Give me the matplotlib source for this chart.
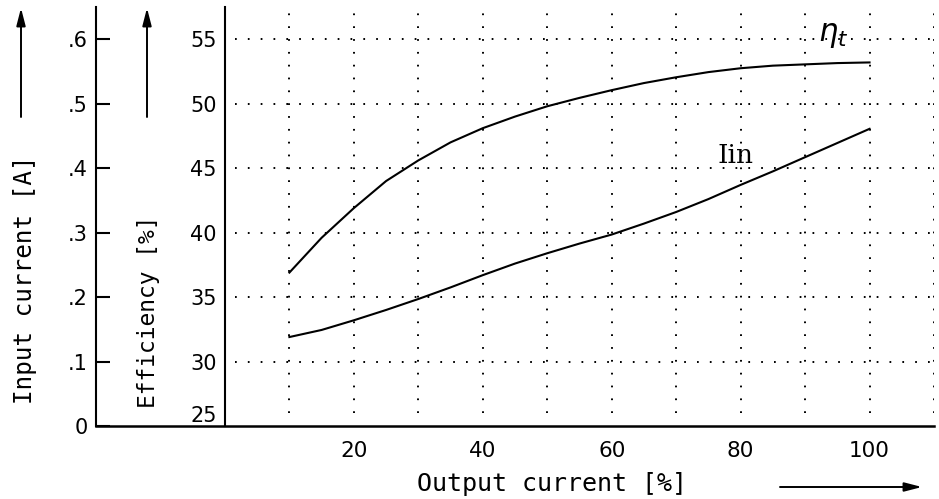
import matplotlib
matplotlib.use("Agg")
import matplotlib.pyplot as plt

# ── Data ──────────────────────────────────────────────────────────────────
output_pct = [10, 15, 20, 25, 30, 35, 40, 45, 50, 55,
              60, 65, 70, 75, 80, 85, 90, 95, 100]
efficiency = [36.9, 39.6, 41.9, 44.0, 45.6, 47.0, 48.1, 49.0, 49.8, 50.45,
              51.05, 51.6, 52.05, 52.45, 52.75, 52.95, 53.05, 53.15, 53.2]
input_current = [0.138, 0.149, 0.164, 0.180, 0.197, 0.215, 0.234, 0.252, 0.268, 0.283,
                 0.297, 0.314, 0.332, 0.352, 0.374, 0.395, 0.417, 0.439, 0.461]

x_ticks = [20, 40, 60, 80, 100]
x_grid = [10, 20, 30, 40, 50, 60, 70, 80, 90, 100, 110]
eff_ticks = [25, 30, 35, 40, 45, 50, 55]
eff_grid = [30, 35, 40, 45, 50, 55]
cur_ticks = [0, 0.1, 0.2, 0.3, 0.4, 0.5, 0.6]
cur_labels = ["0", ".1", ".2", ".3", ".4", ".5", ".6"]

W, H = 939, 499
NUM_FONT = "DejaVu Sans"
TXT_FONT = "DejaVu Sans Mono"
DOTS = (0, (0.9, 5.7))


def fx(px):
    return px / W


def fy(py):
    return 1 - py / H


fig = plt.figure(figsize=(W / 100, H / 100), dpi=100, facecolor="white")
ax = fig.add_axes([fx(96), fy(426), (934 - 96) / W, (426 - 7) / H])
ax.set_xlim(-20, 110)
ax.set_ylim(0, 0.65)

# efficiency scale sits on its own axis line at x = 0
ax2 = ax.twinx()
ax2.set_ylim(25, 57.5)

# ── grid (dotted) ─────────────────────────────────────────────────────────
ax2.hlines(eff_grid, 1.5, 110.5, colors="black", lw=1.4, linestyles=DOTS, zorder=1)
ax2.vlines(x_grid, 26.0, 57.0, colors="black", lw=1.4, linestyles=DOTS, zorder=1)

# ── curves ────────────────────────────────────────────────────────────────
ax2.plot(output_pct, efficiency, color="black", lw=1.5, zorder=3,
         solid_joinstyle="round")
ax.plot(output_pct, input_current, color="black", lw=1.5, zorder=3,
        solid_joinstyle="round")

ax2.text(94.4, 55.3, r"$\eta_t$", fontsize=22, ha="center", va="center")
ax.text(79.2, 0.42, "Iin", fontsize=19, ha="center", va="center",
        fontfamily="DejaVu Serif")

# ── input-current axis (left spine) ───────────────────────────────────────
for sp in ["top", "right"]:
    ax.spines[sp].set_visible(False)
ax.spines["left"].set_linewidth(1.5)
ax.spines["bottom"].set_linewidth(1.8)
ax.set_yticks(cur_ticks)
ax.set_yticklabels(cur_labels, fontsize=15, fontfamily=NUM_FONT)
ax.tick_params(axis="y", direction="in", length=10, width=1.5, pad=6)
ax.set_xticks(x_ticks)
ax.set_xticklabels([str(v) for v in x_ticks], fontsize=15.5, fontfamily=NUM_FONT)
ax.tick_params(axis="x", length=0, pad=11)

# ── efficiency axis at x = 0 ──────────────────────────────────────────────
for sp in ["top", "right", "bottom"]:
    ax2.spines[sp].set_visible(False)
ax2.spines["left"].set_position(("data", 0))
ax2.spines["left"].set_visible(True)
ax2.spines["left"].set_linewidth(1.5)
ax2.yaxis.tick_left()
ax2.set_yticks(eff_ticks)
ax2.set_yticklabels([str(v) for v in eff_ticks], fontsize=15, fontfamily=NUM_FONT)
ax2.tick_params(axis="y", length=0, pad=6)
ax2.get_yticklabels()[0].set_verticalalignment("bottom")

# ── axis titles and arrows ────────────────────────────────────────────────
fig.text(fx(25), fy(280), "Input current [A]", rotation=90, ha="center",
         va="center", fontsize=17.5, fontfamily=TXT_FONT)
fig.text(fx(149), fy(312), "Efficiency [%]", rotation=90, ha="center",
         va="center", fontsize=16.5, fontfamily=TXT_FONT)
fig.text(fx(552), fy(484), "Output current [%]", ha="center",
         va="center", fontsize=18, fontfamily=TXT_FONT)

arrow = dict(arrowstyle="-|>,head_width=0.18,head_length=0.7",
             color="black", lw=1.4, mutation_scale=15, shrinkA=0, shrinkB=0)
for x0 in [21, 147]:
    fig.add_artist(matplotlib.patches.FancyArrowPatch(
        (fx(x0), fy(117)), (fx(x0), fy(8)), transform=fig.transFigure, **arrow))
fig.add_artist(matplotlib.patches.FancyArrowPatch(
    (fx(780), fy(487)), (fx(922), fy(487)), transform=fig.transFigure, **arrow))

fig.savefig("out.png", dpi=100, facecolor="white")
